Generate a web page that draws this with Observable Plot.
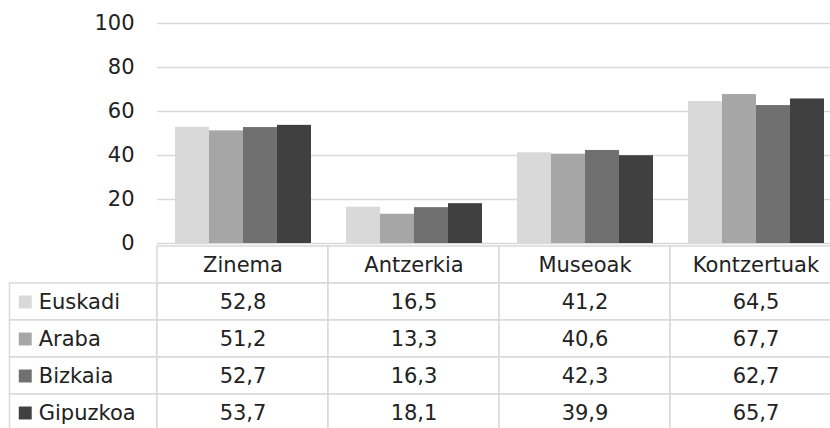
<!DOCTYPE html>
<html>
<head>
<meta charset="utf-8">
<script src="https://cdn.jsdelivr.net/npm/d3@7"></script>
<script src="https://cdn.jsdelivr.net/npm/@observablehq/plot@0.6"></script>
<style>
  html, body { margin: 0; padding: 0; background: white; overflow: hidden; }
  #chart svg { display: block; }
</style>
</head>
<body>
<div id="chart"></div>
<script>
const categories = ["Zinema", "Antzerkia", "Museoak", "Kontzertuak"];
const series = ["Euskadi", "Araba", "Bizkaia", "Gipuzkoa"];
const colors = ["#d9d9d9", "#a6a6a6", "#707070", "#404040"];
const euskadi = [52.8, 16.5, 41.2, 64.5];
const araba = [51.2, 13.3, 40.6, 67.7];
const bizkaia = [52.7, 16.3, 42.3, 62.7];
const gipuzkoa = [53.7, 18.1, 39.9, 65.7];
const yTicks = [0, 20, 40, 60, 80, 100];

const valuesBySeries = [euskadi, araba, bizkaia, gipuzkoa];
const data = [];
series.forEach((s, i) => categories.forEach((c, j) => data.push({series: s, category: c, value: valuesBySeries[i][j]})));

const FONT = "'DejaVu Sans', sans-serif";
const FS = 21;
const LS = "1.4px";
const TXT = "#222222";
const GRID = "#d9d9d9";
const W = 842, LEFT = 156;
const bw = (W - LEFT) / categories.length;

const chart = Plot.plot({
  width: W,
  height: 244,
  marginLeft: LEFT,
  marginRight: 0,
  marginTop: 23,
  marginBottom: 1,
  style: {fontFamily: FONT, fontSize: FS + "px", color: TXT, maxWidth: "none", overflow: "visible", background: "transparent"},
  fx: {domain: categories, padding: 0, axis: null},
  x: {domain: series, paddingInner: 0, paddingOuter: 0.5, axis: null},
  y: {domain: [0, 100], axis: null},
  color: {domain: series, range: colors},
  marks: [
    Plot.ruleY(yTicks, {stroke: GRID, strokeWidth: 1.5}),
    Plot.barY(data, {fx: "category", x: "series", y: "value", fill: "series"}),
    Plot.axisY({ticks: yTicks, tickSize: 0, tickPadding: 23, fontSize: FS, fill: TXT, label: null})
  ]
});

const rows = ["", ...series];
const RH = 37.8;
const cellStyle = {fill: "white", stroke: GRID, strokeWidth: 1.5};
const fmt = v => v.toFixed(1).replace(".", ",");

const table = Plot.plot({
  width: W,
  height: 184,
  margin: 0,
  style: {fontFamily: FONT, fontSize: FS + "px", color: TXT, maxWidth: "none", overflow: "hidden", background: "transparent"},
  x: {type: "band", domain: ["", ...categories], range: [LEFT - bw, W], padding: 0, axis: null},
  y: {type: "band", domain: rows, range: [0, rows.length * RH], padding: 0, axis: null},
  color: {domain: series, range: colors},
  marks: [
    Plot.cell(categories, {x: d => d, y: () => "", ...cellStyle}),
    Plot.cell(series, {x: () => "", y: d => d, insetLeft: bw - 148, ...cellStyle}),
    Plot.cell(data, {x: "category", y: "series", ...cellStyle}),
    Plot.text(categories, {x: d => d, y: () => "", text: d => d, fill: TXT, fontSize: FS, style: {letterSpacing: LS}}),
    Plot.text(data, {x: "category", y: "series", text: d => fmt(d.value), fill: TXT, fontSize: FS}),
    Plot.dot(series, {x: () => "", y: d => d, symbol: "square", r: 7.3, fill: d => d, dx: (LEFT - 148 + 15.5) - (LEFT - bw / 2)}),
    Plot.text(series, {x: () => "", y: d => d, text: d => d, textAnchor: "start", fill: TXT, fontSize: FS, dx: 37 - (LEFT - bw / 2), style: {letterSpacing: LS}})
  ]
});

const el = document.getElementById("chart");
el.append(chart, table);
</script>
</body>
</html>
